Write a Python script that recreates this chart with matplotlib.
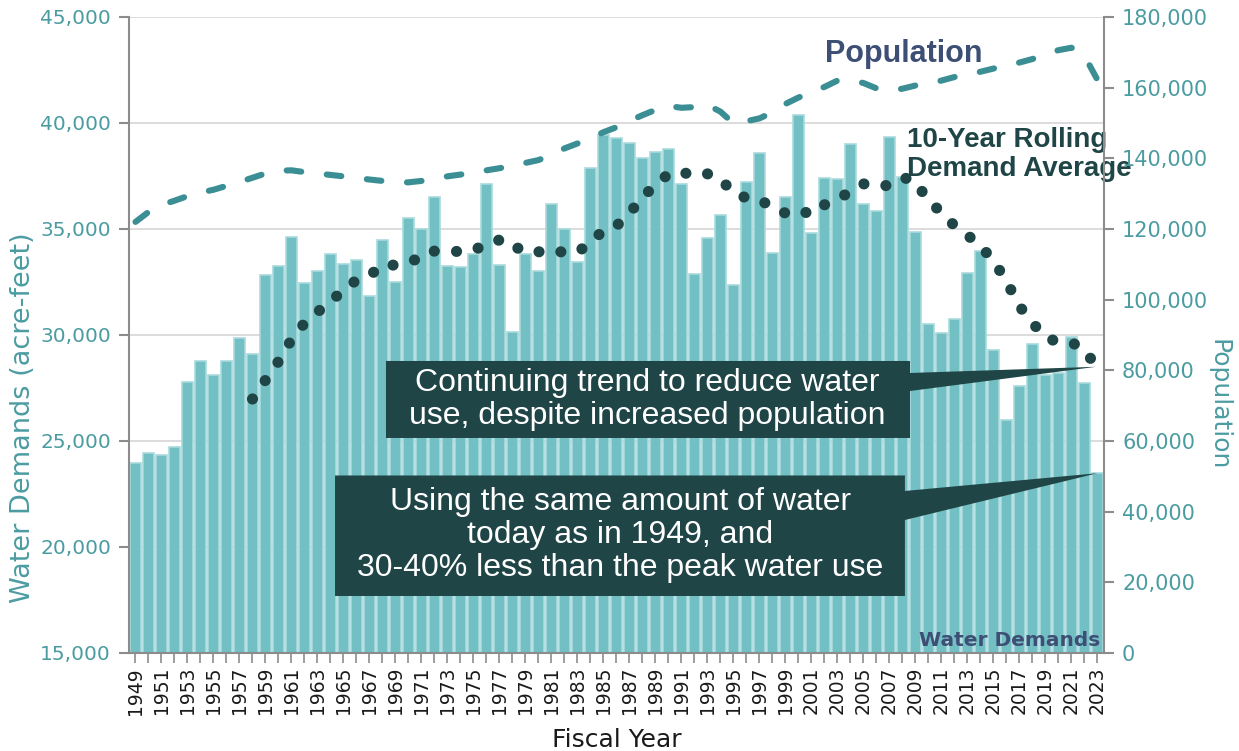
import matplotlib.pyplot as plt
from matplotlib.patches import Polygon

# data
years = list(range(1949, 2024))
water_demand = [23950, 24410, 24330, 24700, 27780, 28790, 28120, 28760, 29840, 29110,
                32820, 33260, 34610, 32470, 33010, 33830, 33360, 33550, 31830, 34490,
                32500, 35530, 35010, 36490, 33260, 33220, 33810, 37140, 33310, 30140,
                33800, 33000, 36170, 34980, 33460, 37890, 39410, 39290, 39040, 38370,
                38650, 38790, 37100, 32870, 34560, 35670, 32380, 37220, 38570, 33850,
                36490, 40370, 34830, 37420, 37350, 39020, 36160, 35840, 39360, 37470,
                34880, 30530, 30110, 30760, 32920, 33970, 29300, 26010, 27610, 29580,
                28120, 28190, 29920, 27750, 23480]

rolling_years = list(range(1958, 2024))
rolling_avg = [26980, 27870, 28750, 29780, 30560, 31080, 31580, 32110, 32590, 32790,
               33320, 33290, 33520, 33560, 33960, 33990, 33920, 33970, 34330, 34480,
               34040, 34170, 33920, 34030, 33880, 33900, 34370, 34930, 35150, 35720,
               36540, 37030, 37610, 37700, 37490, 37600, 37380, 36670, 36470, 36420,
               35970, 35750, 35910, 35680, 36140, 36420, 36750, 37130, 36990, 37070,
               37430, 37270, 36290, 35810, 35150, 34710, 34200, 33510, 32530, 31360,
               30570, 29890, 29660, 29640, 29340, 28390]

population = [122000, 124800, 126800, 128000, 129300, 130300, 131100, 132200, 133300, 134500,
              135700, 136500, 136600, 136100, 135700, 135300, 134900, 134400, 134000, 133600,
              133200, 133200, 133600, 134300, 134900, 135400, 136000, 136600, 137200, 137900,
              138700, 139500, 141000, 142800, 144200, 145600, 147400, 148800, 150600, 152200,
              153700, 154800, 154300, 154500, 155100, 153200, 149900, 150500, 151300, 153000,
              155400, 157200, 158800, 160200, 162000, 162100, 161300, 159800, 159200, 159700,
              160600, 161200, 162000, 163000, 163700, 164500, 165400, 166300, 167100, 168100,
              169500, 170600, 171300, 169000, 162200]

left_ticks = [15000, 20000, 25000, 30000, 35000, 40000, 45000]
right_ticks = [0, 20000, 40000, 60000, 80000, 100000, 120000, 140000, 160000, 180000]

bar_c = '#72BFC4'
bar_edge = '#A9DADD'
pop_c = '#3B8F94'
dark = '#1F4547'
teal_txt = '#4B9CA1'
navy = '#3D4F75'
gray = '#8C8C8C'

plt.rcParams['font.family'] = 'DejaVu Sans'

fig = plt.figure(figsize=(12.39, 7.51), dpi=100)
ax = fig.add_axes([0.1041, 0.1305, 0.7869, 0.8469])
ax2 = ax.twinx()

ax.bar(years, water_demand, width=0.82, color=bar_c, edgecolor=bar_edge, linewidth=1.2, zorder=2)
ax.plot(rolling_years, rolling_avg, color=dark, lw=8, linestyle=(0, (0.01, 2.0)),
        dash_capstyle='round', zorder=4)
ax2.plot(years, population, color=pop_c, lw=4.4, linestyle=(0, (2.4, 4.2)),
         dash_capstyle='round')

ax.set_xlim(1948.5, 2023.5)
ax.set_ylim(15000, 45000)
ax2.set_ylim(0, 180000)

ax.yaxis.grid(True, color='#D9D9D9', lw=1.3)
ax.set_axisbelow(True)

ax.set_yticks(left_ticks)
ax.set_yticklabels([f'{v:,}' for v in left_ticks])
ax2.set_yticks(right_ticks)
ax2.set_yticklabels([f'{v:,}' for v in right_ticks])
ax.set_xticks(years)
ax.set_xticklabels([str(y) if (y - 1949) % 2 == 0 else '' for y in years], rotation=90)

ax.tick_params(axis='y', length=7, width=1.5, color=gray, labelsize=14.5, labelcolor=teal_txt, pad=6)
ax2.tick_params(axis='y', length=7, width=1.5, color=gray, labelsize=15, labelcolor=teal_txt, pad=6)
ax.tick_params(axis='x', length=7, width=1.2, color=gray, labelsize=13.5, labelcolor='#1A1A1A', pad=3)

for a in (ax, ax2):
    a.spines['top'].set_visible(False)
ax.spines['right'].set_visible(False)
ax2.spines['left'].set_visible(False)
ax2.spines['bottom'].set_visible(False)
for s in (ax.spines['left'], ax.spines['bottom'], ax2.spines['right']):
    s.set_color(gray)
    s.set_linewidth(1.5)

ax.set_ylabel('Water Demands (acre-feet)', fontsize=19.5, color=teal_txt, labelpad=8)
ax.yaxis.set_label_coords(-0.095, 0.37)
ax2.set_ylabel('Population', fontsize=18, color=teal_txt, rotation=270, labelpad=24)
ax2.yaxis.set_label_coords(1.13, 0.39)
ax.set_xlabel('Fiscal Year', fontsize=18, color='#1A1A1A', labelpad=10)

# callout boxes
box1 = [(1968.27, 28774), (2008.58, 28774), (2008.58, 28208), (2022.9, 28500),
        (2008.58, 27358), (2008.58, 25142), (1968.27, 25142)]
box2 = [(1964.35, 23373), (2008.19, 23373), (2008.19, 22642), (2023.0, 23480),
        (2008.19, 21274), (2008.19, 17689), (1964.35, 17689)]
for pts in (box1, box2):
    ax.add_patch(Polygon(pts, closed=True, facecolor=dark, edgecolor='none', zorder=6))

ax.text(1988.4, 26958, 'Continuing trend to reduce water\nuse, despite increased population',
        ha='center', va='center', color='white', fontsize=23, family='Liberation Sans',
        linespacing=1.1, zorder=7)
ax.text(1986.3, 20560, 'Using the same amount of water\ntoday as in 1949, and\n30-40% less than the peak water use',
        ha='center', va='center', color='white', fontsize=23, family='Liberation Sans',
        linespacing=1.14, zorder=7)

ax.text(2008.1, 43255, 'Population', ha='center', va='center', color=navy, fontsize=22,
        fontweight='bold', family='Liberation Sans', zorder=7)
ax.text(2008.35, 38514, '10-Year Rolling\nDemand Average', ha='left', va='center', color=dark,
        fontsize=20, fontweight='bold', family='Liberation Sans', linespacing=1.15, zorder=7)
ax.text(2023.2, 15566, 'Water Demands', ha='right', va='center', color=navy, fontsize=14.5,
        fontweight='bold', zorder=7)

fig.savefig('out.png', dpi=100)
